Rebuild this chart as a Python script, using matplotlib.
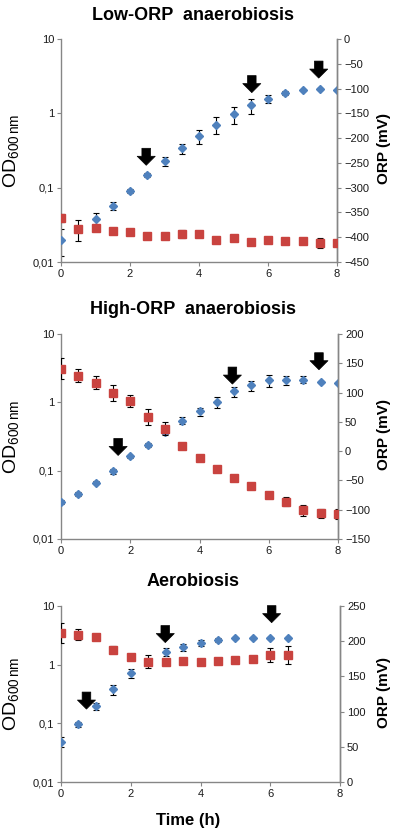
import matplotlib
matplotlib.use("Agg")
import matplotlib.pyplot as plt

plt.rcParams['font.family'] = ['Liberation Sans', 'DejaVu Sans']
plt.rcParams['mathtext.fontset'] = 'custom'
plt.rcParams['mathtext.rm'] = 'Liberation Sans'
plt.rcParams['mathtext.it'] = 'Liberation Sans:italic'
plt.rcParams['mathtext.bf'] = 'Liberation Sans:bold'

# ---------------- data ----------------
time_full = [0, 0.5, 1, 1.5, 2, 2.5, 3, 3.5, 4, 4.5, 5, 5.5, 6, 6.5, 7, 7.5, 8]
time_aer = [0, 0.5, 1, 1.5, 2, 2.5, 3, 3.5, 4, 4.5, 5, 5.5, 6, 6.5]

titles = ["Low-ORP  anaerobiosis", "High-ORP  anaerobiosis", "Aerobiosis"]

od_low = [0.020, 0.028, 0.038, 0.057, 0.091, 0.148, 0.228, 0.338, 0.49, 0.70,
          0.97, 1.28, 1.58, 1.87, 2.03, 2.14, 2.03]
od_low_err = [0.008, 0.009, 0.007, 0.007, 0.005, 0.01, 0.03, 0.05, 0.1, 0.18,
              0.25, 0.3, 0.2, 0.1, 0.05, 0.05, 0.03]
orp_low = [-362, -383, -381, -387, -389, -397, -397, -394, -393, -405,
           -401, -410, -406, -408, -408, -411, -411]
orp_low_err = [8, 3, 2, 5, 2, 2, 3, 8, 2, 2, 2, 2, 2, 2, 2, 10, 4]

od_high = [0.035, 0.046, 0.067, 0.098, 0.162, 0.235, 0.37, 0.54, 0.74, 1.0,
           1.45, 1.77, 2.1, 2.1, 2.15, 2.0, 1.92]
od_high_err = [0.002, 0.003, 0.004, 0.008, 0.01, 0.015, 0.03, 0.06, 0.1, 0.18,
               0.25, 0.3, 0.4, 0.3, 0.25, 0.05, 0.05]
orp_high = [141, 129, 117, 99, 86, 58, 38, 9, -12, -31, -46, -60, -75, -86,
            -101, -106, -107]
orp_high_err = [18, 11, 11, 14, 10, 14, 11, 2, 3, 2, 2, 3, 4, 7, 9, 8, 9]

od_aer = [0.049, 0.097, 0.196, 0.38, 0.71, 1.1, 1.65, 1.98, 2.38, 2.64, 2.82,
          2.82, 2.82, 2.88]
od_aer_err = [0.01, 0.01, 0.03, 0.07, 0.12, 0.1, 0.25, 0.3, 0.3, 0.2, 0.1,
              0.1, 0.1, 0.1]
orp_aer = [212, 209, 206, 188, 178, 171, 171, 172, 171, 172, 174, 175, 180, 180]
orp_aer_err = [14, 8, 2, 5, 2, 9, 2, 4, 2, 2, 2, 2, 10, 13]

arrow_x = [[2.47, 5.53, 7.47], [1.65, 4.95, 7.45], [0.73, 2.99, 6.04]]
arrow_tip_od = [[0.20, 1.9, 2.98], [0.167, 1.85, 3.0], [0.175, 2.38, 5.2]]

orp_limits = [(-450, 0), (-150, 200), (0, 250)]
od_ticks = [0.01, 0.1, 1, 10]
od_ticklabels = ["0,01", "0,1", "1", "10"]
time_ticks = [0, 2, 4, 6, 8]

# ---------------- style ----------------
W, H = 397, 832
BLUE = "#4F81BD"
RED = "#C9433F"
GREY = "#868686"
TXT = "#1a1a1a"

fig = plt.figure(figsize=(W / 100, H / 100), dpi=100)

# axes boxes in pixels: left, right, top, bottom
boxes = [(61, 337, 39, 262), (61, 338, 334, 539), (61, 340, 606, 782)]
title_y = [15, 310, 582]

panels = [
    (time_full, od_low, od_low_err, orp_low, orp_low_err),
    (time_full, od_high, od_high_err, orp_high, orp_high_err),
    (time_aer, od_aer, od_aer_err, orp_aer, orp_aer_err),
]

for i, (t, od, od_err, orp, orp_err) in enumerate(panels):
    l, r, tp, b = boxes[i]
    ax = fig.add_axes([l / W, 1 - b / H, (r - l) / W, (b - tp) / H])
    ax.set_yscale("log")
    ax.set_ylim(0.01, 10)
    ax.set_xlim(0, 8)
    ax.set_yticks(od_ticks)
    ax.set_yticklabels(od_ticklabels)
    ax.minorticks_off()
    ax.set_xticks(time_ticks)
    ax.set_xticklabels([str(v) for v in time_ticks])
    ax.spines["top"].set_visible(False)
    for s in ["left", "bottom", "right"]:
        ax.spines[s].set_color(GREY)
        ax.spines[s].set_linewidth(1.0)
    ax.tick_params(axis="both", colors=GREY, labelcolor=TXT, labelsize=8,
                   length=3, width=0.8, direction="out", pad=2)

    ax.errorbar(t, od, yerr=od_err, fmt="none", ecolor="black",
                elinewidth=0.8, capsize=2, capthick=0.8, zorder=2)
    ax.plot(t, od, linestyle="none", marker="D", ms=4, color=BLUE,
            mec=BLUE, zorder=3)

    ax2 = ax.twinx()
    ax2.set_ylim(*orp_limits[i])
    lo, hi = orp_limits[i]
    ax2.set_yticks(list(range(lo, hi + 1, 50)))
    ax2.spines["top"].set_visible(False)
    ax2.spines["left"].set_visible(False)
    ax2.spines["bottom"].set_visible(False)
    ax2.spines["right"].set_color(GREY)
    ax2.spines["right"].set_linewidth(1.0)
    ax2.tick_params(axis="y", colors=GREY, labelcolor=TXT, labelsize=8,
                    length=3, width=0.8, direction="out", pad=2)
    ax2.errorbar(t, orp, yerr=orp_err, fmt="none", ecolor="black",
                 elinewidth=0.8, capsize=2, capthick=0.8, zorder=2)
    ax2.plot(t, orp, linestyle="none", marker="s", ms=6, color=RED,
             mec=RED, zorder=3)

    for xa, ya in zip(arrow_x[i], arrow_tip_od[i]):
        ax2.annotate("", xy=(xa, ya), xycoords=ax.transData,
                     xytext=(0, 17), textcoords="offset pixels",
                     arrowprops=dict(arrowstyle="simple,head_length=0.65,head_width=1.3,tail_width=0.62",
                                     mutation_scale=10, fc="black", ec="black",
                                     lw=0.5, shrinkA=0, shrinkB=0),
                     zorder=5)

    fig.text(193 / W, 1 - title_y[i] / H, titles[i], ha="center", va="center",
             fontsize=13, fontweight="bold", color="black")
    cy = (tp + b) / 2
    fig.text(11 / W, 1 - cy / H, r"OD$_{\mathrm{600\,nm}}$", rotation=90,
             ha="center", va="center", fontsize=14, color="black")
    fig.text(384 / W, 1 - (cy - 2) / H, "ORP (mV)", rotation=90,
             ha="center", va="center", fontsize=11, fontweight="bold",
             color="black")

fig.text(188 / W, 1 - 820 / H, "Time (h)", ha="center", va="center",
         fontsize=12, fontweight="bold", color="black")

fig.savefig("out.png", dpi=100)
